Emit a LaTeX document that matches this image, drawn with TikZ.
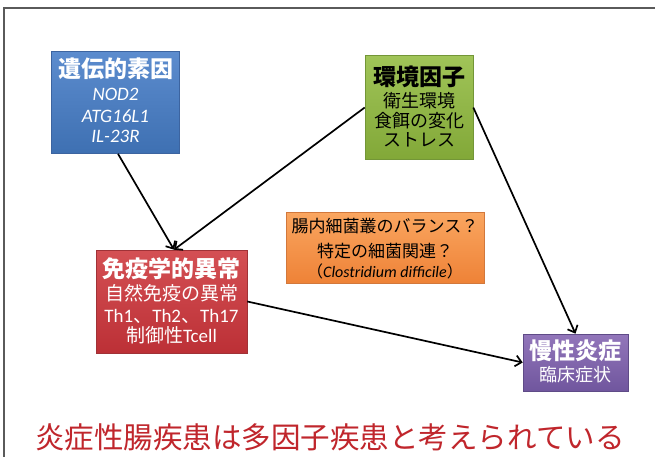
\documentclass[tikz,border=0pt]{standalone}
\usepackage{fontspec}
\setmainfont{Carlito}
\newfontfamily\jp{Noto Sans CJK JP}
\usetikzlibrary{arrows.meta}
\definecolor{bluetop}{RGB}{92,140,206}
\definecolor{bluebot}{RGB}{62,112,178}
\definecolor{blueline}{RGB}{60,100,160}
\definecolor{greentop}{RGB}{160,196,88}
\definecolor{greenbot}{RGB}{130,168,56}
\definecolor{greenline}{RGB}{115,150,55}
\definecolor{orangetop}{RGB}{250,166,96}
\definecolor{orangebot}{RGB}{238,130,55}
\definecolor{orangeline}{RGB}{210,120,60}
\definecolor{redtop}{RGB}{212,80,84}
\definecolor{redbot}{RGB}{188,48,54}
\definecolor{redline}{RGB}{160,50,55}
\definecolor{purpletop}{RGB}{146,118,186}
\definecolor{purplebot}{RGB}{112,86,158}
\definecolor{purpleline}{RGB}{95,75,135}
\definecolor{msgred}{RGB}{192,38,44}
\definecolor{framegray}{RGB}{90,90,90}
\tikzset{
  box/.style={rectangle, inner sep=0pt, line width=0.6pt},
  ttl/.style={inner sep=0pt, anchor=base, font=\jp\bfseries\fontsize{23}{27}\selectfont},
  sub/.style={inner sep=0pt, anchor=base, font=\jp\fontsize{18}{22}\selectfont},
  subl/.style={inner sep=0pt, anchor=base, font=\jp\fontsize{19}{23}\selectfont},
  lat/.style={inner sep=0pt, anchor=base, font=\fontsize{19}{23}\selectfont},
  latit/.style={inner sep=0pt, anchor=base, font=\itshape\fontsize{19}{23}\selectfont},
  conn/.style={line width=1.7pt, -{Straight Barb[length=6pt,width=11pt,line width=1.7pt]}}
}
\begin{document}
\begin{tikzpicture}[x=1pt,y=-1pt]
\useasboundingbox (0,0) rectangle (655,457);
\fill[white] (0,0) rectangle (655,457);
\draw[framegray, line width=1.5pt] (4,460) -- (4,8) -- (660,8);

% boxes
\node[box, draw=blueline, top color=bluetop, bottom color=bluebot,
  minimum width=128pt, minimum height=102pt] (blue) at (115.5,102.5) {};
\node[box, draw=greenline, top color=greentop, bottom color=greenbot,
  minimum width=108pt, minimum height=104pt] (green) at (419,107.5) {};
\node[box, draw=orangeline, top color=orangetop, bottom color=orangebot,
  minimum width=198pt, minimum height=71pt] (orange) at (385,247.5) {};
\node[box, draw=redline, top color=redtop, bottom color=redbot,
  minimum width=151pt, minimum height=103pt] (red) at (171.5,301.5) {};
\node[box, draw=purpleline, top color=purpletop, bottom color=purplebot,
  minimum width=105pt, minimum height=57pt] (purple) at (575.5,362.5) {};

% blue text
\node[ttl, text=white] (b1) at (115.5,77.5) {遺伝的素因};
\node[latit, text=white] (b2) at (115.5,100.5) {NOD2};
\node[latit, text=white] (b3) at (115.5,122.5) {ATG16L1};
\node[latit, text=white] (b4) at (115.5,142.5) {IL-23R};

% green text
\node[ttl] (g1) at (419,86) {環境因子};
\node[sub] (g2) at (419,107.3) {衛生環境};
\node[sub] (g3) at (419,127.3) {食餌の変化};
\node[sub] (g4) at (419,147) {ストレス};

% orange text
\node[sub, font=\jp\fontsize{17}{21}\selectfont] (o1) at (385,232) {腸内細菌叢のバランス？};
\node[sub, font=\jp\fontsize{17}{21}\selectfont] (o2) at (385,257) {特定の細菌関連？};
\node[lat, font=\fontsize{16}{20}\selectfont] (o3) at (385,277) {{\jp （}\textit{Clostridium difficile}{\jp ）}};

% red text
\node[ttl, text=white] (r1) at (171.5,277.5) {免疫学的異常};
\node[subl, text=white] (r2) at (171.5,300.8) {自然免疫の異常};
\node[lat, text=white] (r3) at (171.5,322) {Th1{\jp 、}Th2{\jp 、}Th17};
\node[lat, text=white] (r4) at (171.5,342.8) {{\jp 制御性}Tcell};

% purple text
\node[ttl, text=white] (p1) at (575.5,359.8) {慢性炎症};
\node[sub, text=white] (p2) at (575.5,381.8) {臨床症状};

% message
\node[inner sep=0pt, anchor=base, text=msgred, font=\jp\fontsize{29.5}{34}\selectfont] (msg) at (330,448) {炎症性腸疾患は多因子疾患と考えられている};

% connectors
\draw[conn] ([xshift=2.5pt]blue.south) -- ([xshift=2.5pt]red.north);
\draw[conn] (green.west) -- ([xshift=2.5pt]red.north);
\draw[conn] (green.east) -- (purple.north);
\draw[conn] (red.east) -- (purple.west);
\end{tikzpicture}
\end{document}
